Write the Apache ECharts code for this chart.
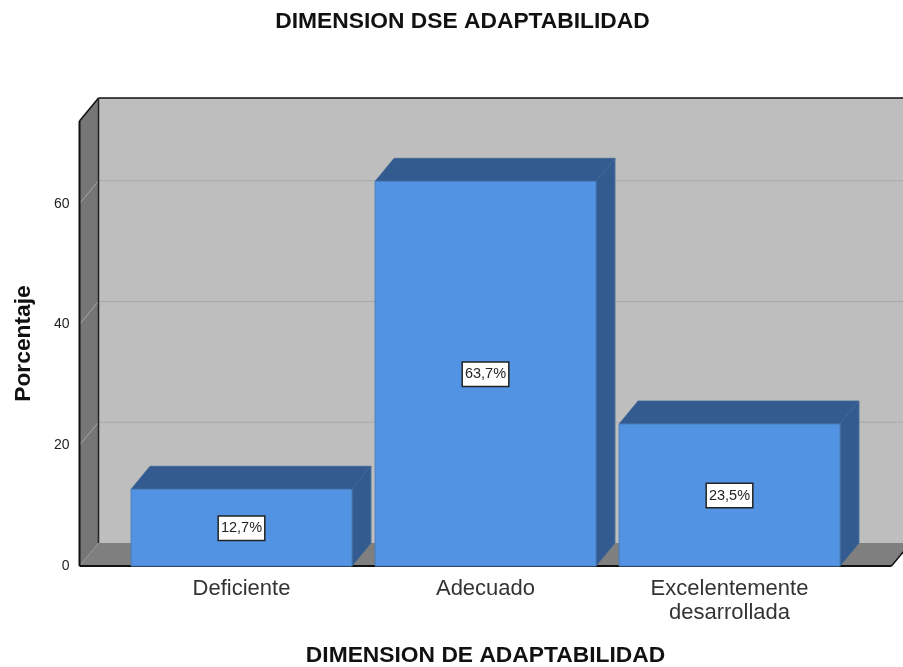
<!DOCTYPE html>
<html>
<head>
<meta charset="utf-8">
<style>
  html, body { margin: 0; padding: 0; background: #fff; }
  #chart { width: 903px; height: 667px; }
</style>
</head>
<body>
<div id="chart"></div>
<script src="https://cdn.jsdelivr.net/npm/echarts@6/dist/echarts.min.js"></script>
<script>
const categories = ["Deficiente", "Adecuado", "Excelentemente\ndesarrollada"];
const porcentajes = [12.7, 63.7, 23.5];
const yTicks = [0, 20, 40, 60];
const yMax = 73.7;

const titulo = "DIMENSION DSE ADAPTABILIDAD";
const tituloX = "DIMENSION DE ADAPTABILIDAD";
const tituloY = "Porcentaje";

// profundidad del efecto 3D, en pixeles
const dx = 19;
const dy = 23;
const sidePad = 40;
const font = "'Liberation Sans', Arial, sans-serif";

const chart = echarts.init(document.getElementById("chart"));

function poly(points, fill, stroke, width) {
  return {
    type: "polygon",
    shape: { points: points },
    style: { fill: fill, stroke: stroke || null, lineWidth: width || 0 }
  };
}
function line(x1, y1, x2, y2, color, width) {
  return {
    type: "line",
    shape: { x1: x1, y1: y1, x2: x2, y2: y2 },
    style: { stroke: color, lineWidth: width, fill: null }
  };
}

// paredes y suelo
function renderWalls(params, api) {
  const band = api.size([1, 0])[0];
  const x0 = api.coord([0, 0])[0] - band / 2 - sidePad;
  const x1 = api.coord([categories.length - 1, 0])[0] + band / 2 + sidePad;
  const y0 = api.coord([0, 0])[1];
  const yTop = api.coord([0, yMax])[1];
  const children = [
    poly([[x0 + dx, yTop - dy], [x1 + dx, yTop - dy], [x1 + dx, y0 - dy], [x0 + dx, y0 - dy]], "#bebebe"),
    poly([[x0, yTop], [x0 + dx, yTop - dy], [x0 + dx, y0 - dy], [x0, y0]], "#767676"),
    poly([[x0, y0], [x0 + dx, y0 - dy], [x1 + dx, y0 - dy], [x1, y0]], "#7f7f7f")
  ];
  yTicks.slice(1).forEach(function (t) {
    const y = api.coord([0, t])[1];
    children.push(line(x0, y, x0 + dx, y - dy, "#a6a6a6", 1));
    children.push(line(x0 + dx, y - dy, x1 + dx, y - dy, "#a8a8a8", 1));
  });
  children.push(line(x0 + dx, yTop - dy, x1 + dx, yTop - dy, "#111", 1.5));
  children.push(line(x0, yTop, x0 + dx, yTop - dy, "#111", 1.5));
  children.push(line(x0 + dx, yTop - dy, x0 + dx, y0 - dy, "#222", 1.5));
  children.push(line(x0, yTop, x0, y0, "#111", 2));
  children.push(line(x0, y0, x1, y0, "#111", 2));
  children.push(line(x1, y0, x1 + dx, y0 - dy, "#111", 1.5));
  return { type: "group", children: children };
}

// barra con cara frontal, superior y lateral
function renderBar(params, api) {
  const cat = api.value(0);
  const val = api.value(1);
  const w = api.size([1, 0])[0] * 0.905;
  const c = api.coord([cat, val]);
  const b = api.coord([cat, 0]);
  const l = c[0] - w / 2;
  const r = c[0] + w / 2;
  const t = c[1];
  const f = b[1];
  const midY = (t + f) / 2;
  return {
    type: "group",
    children: [
      poly([[l, t], [l + dx, t - dy], [r + dx, t - dy], [r, t]], "#335b8f", "#3f6796", 1),
      poly([[r, t], [r + dx, t - dy], [r + dx, f - dy], [r, f]], "#335b8f", "#3f6796", 1),
      poly([[l, t], [r, t], [r, f], [l, f]], "#5294e3", "#4b7fc0", 1),
      {
        type: "text",
        z2: 10,
        x: c[0],
        y: midY + 0.5,
        style: {
          text: val.toFixed(1).replace(".", ",") + "%",
          x: 0,
          y: 0,
          align: "center",
          verticalAlign: "middle",
          fill: "#222",
          font: "14.5px " + font,
          backgroundColor: "#fff",
          borderColor: "#222",
          borderWidth: 1.5,
          padding: [5, 2, 3, 2]
        }
      }
    ]
  };
}

chart.setOption({
  animation: false,
  backgroundColor: "#fff",
  title: {
    text: titulo,
    left: 457.5,
    top: 5,
    textAlign: "center",
    textStyle: { fontFamily: font, fontSize: 22.8, fontWeight: "bold", color: "#111" }
  },
  grid: { left: 119.5, width: 732, top: 121, bottom: 101, outerBoundsMode: "none" },
  xAxis: {
    type: "category",
    data: categories,
    axisLine: { show: false },
    axisTick: { show: false },
    axisLabel: { interval: 0, fontFamily: font, fontSize: 22, color: "#333", lineHeight: 24, margin: 11 },
    name: tituloX,
    nameLocation: "middle",
    nameGap: 78,
    nameTextStyle: { fontFamily: font, fontSize: 22.8, fontWeight: "bold", color: "#111" }
  },
  yAxis: {
    type: "value",
    min: 0,
    max: yMax,
    interval: 20,
    offset: 40,
    splitLine: { show: false },
    axisLine: { show: false },
    axisTick: { show: false },
    axisLabel: { customValues: yTicks, fontFamily: font, fontSize: 14, color: "#222", margin: 10 },
    name: tituloY,
    nameLocation: "middle",
    nameGap: 44,
    nameTextStyle: { fontFamily: font, fontSize: 22.8, fontWeight: "bold", color: "#111" }
  },
  series: [
    {
      type: "custom",
      name: "paredes",
      z: 1,
      silent: true,
      renderItem: renderWalls,
      data: [[0, 0]]
    },
    {
      type: "custom",
      name: "Porcentaje",
      z: 2,
      renderItem: renderBar,
      encode: { x: 0, y: 1 },
      data: porcentajes.map(function (v, i) { return [i, v]; })
    }
  ]
});
</script>
</body>
</html>
